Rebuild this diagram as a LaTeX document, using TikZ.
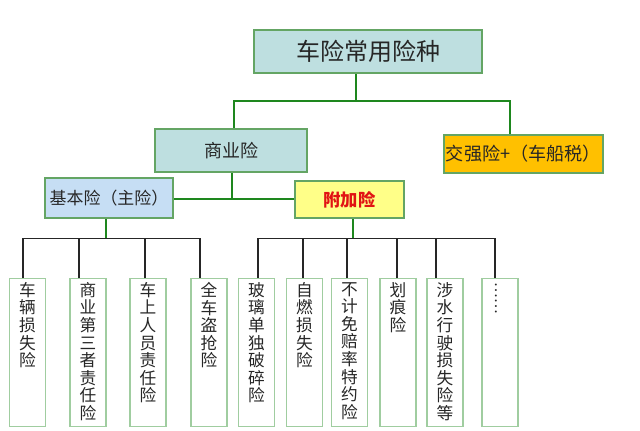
\documentclass[tikz,border=0pt]{standalone}
\usepackage{fontspec}
\setmainfont{Noto Sans CJK SC}
\usetikzlibrary{calc}
\definecolor{gl}{RGB}{30,135,30}
\definecolor{bd}{RGB}{100,165,100}
\definecolor{leafbd}{RGB}{160,205,160}
\definecolor{tealfill}{RGB}{190,223,224}
\definecolor{bluefill}{RGB}{198,222,244}
\definecolor{yelfill}{RGB}{255,255,136}
\definecolor{goldfill}{RGB}{255,192,0}
\definecolor{redtxt}{RGB}{225,20,20}
\begin{document}
\begin{tikzpicture}[x=0.75pt,y=-0.75pt,
  boxstyle/.style={draw=bd,line width=1.6pt,inner sep=0pt,text=black!85},
  leaf/.style={draw=leafbd,line width=0.8pt,fill=white,anchor=north,minimum width=27pt,minimum height=111pt,inner sep=0pt},
  leaftext/.style={anchor=north,align=center,inner sep=0pt,font=\fontsize{12.5}{13.2}\selectfont,text=black!85},
  gline/.style={draw=gl,line width=2.2pt},
  bline/.style={draw=black!85,line width=1.1pt}]
\useasboundingbox (0,0) rectangle (640,430);
% upper boxes
\node[boxstyle,fill=tealfill,minimum width=171pt,minimum height=32.25pt,font=\fontsize{18}{20}\selectfont] (top) at (368,51.5) {车险常用险种};
\node[boxstyle,fill=tealfill,minimum width=114pt,minimum height=32.25pt,font=\fontsize{13.5}{15}\selectfont] (sy) at (231,150.5) {商业险};
\node[boxstyle,fill=goldfill,minimum width=119.25pt,minimum height=28.5pt,font=\fontsize{13.6}{15}\selectfont] (jq) at (523.5,154) {交强险+（车船税）};
\node[boxstyle,fill=bluefill,minimum width=96pt,minimum height=30pt,font=\fontsize{12.7}{14}\selectfont] (jb) at (109,198) {基本险（主险）};
\node[boxstyle,fill=yelfill,minimum width=81.75pt,minimum height=27.75pt,font=\fontsize{13}{15}\selectfont\bfseries,text=redtxt] (fj) at (349.5,199.5) {附加险};
% junctions
\coordinate (j1) at (356,101);
\coordinate (j2) at (232,199);
\coordinate (j3) at (106,238.5);
\coordinate (j4) at (353,238.5);
% green connectors
\draw[gline] (top.south -| j1) -- (j1);
\draw[gline] ($(sy.north)+(3,0)$) |- (j1) -| ($(jq.north)+(-13.5,0)$);
\draw[gline] (sy.south -| j2) -- (j2);
\draw[gline] (jb.east |- j2) -- (fj.west |- j2);
% leaf boxes
\node[leaf] (b1) at (27.5,278) {};
\node[leaf] (b2) at (88,278) {};
\node[leaf] (b3) at (148,278) {};
\node[leaf] (b4) at (209,278) {};
\node[leaf] (b5) at (256.5,278) {};
\node[leaf] (b6) at (304.5,278) {};
\node[leaf] (b7) at (349.5,278) {};
\node[leaf] (b8) at (398,278) {};
\node[leaf] (b9) at (445,278) {};
\node[leaf] (b10) at (500,278) {};
\node[leaftext] at ($(b1.north)+(0,4)$) {车\\辆\\损\\失\\险};
\node[leaftext] at ($(b2.north)+(0,4)$) {商\\业\\第\\三\\者\\责\\任\\险};
\node[leaftext] at ($(b3.north)+(0,4)$) {车\\上\\人\\员\\责\\任\\险};
\node[leaftext] at ($(b4.north)+(0,4)$) {全\\车\\盗\\抢\\险};
\node[leaftext] at ($(b5.north)+(0,4)$) {玻\\璃\\单\\独\\破\\碎\\险};
\node[leaftext] at ($(b6.north)+(0,4)$) {自\\燃\\损\\失\\险};
\node[leaftext] at ($(b7.north)+(0,4)$) {不\\计\\免\\赔\\率\\特\\约\\险};
\node[leaftext] at ($(b8.north)+(0,4)$) {划\\痕\\险};
\node[leaftext] at ($(b9.north)+(0,4)$) {涉\\水\\行\\驶\\损\\失\\险\\等};
\node[rotate=-90,inner sep=0pt,font=\fontsize{11}{11}\selectfont,text=black!85] at ($(b10.north)+(-4,20)$) {……};
% left group connectors
\draw[gline] (jb.south -| j3) -- (j3);
\draw[bline] ($(b1.north)+(-4.5,0)$) |- (j3 -| {$(b4.north)+(-9,0)$}) -- ($(b4.north)+(-9,0)$);
\draw[bline] ($(b2.north)+(-9,0)$) |- (j3);
\draw[bline] ($(b3.north)+(-3,0)$) |- (j3);
% right group connectors
\draw[gline] (fj.south -| j4) -- (j4);
\draw[bline] ($(b5.north)+(1.5,0)$) |- (j4 -| {$(b10.north)+(-5,0)$}) -- ($(b10.north)+(-5,0)$);
\draw[bline] ($(b6.north)+(-1.5,0)$) |- (j4);
\draw[bline] ($(b7.north)+(-2.5,0)$) |- (j4);
\draw[bline] ($(b8.north)+(-1,0)$) |- (j4);
\draw[bline] ($(b9.north)+(-9,0)$) |- (j4);
\end{tikzpicture}
\end{document}
